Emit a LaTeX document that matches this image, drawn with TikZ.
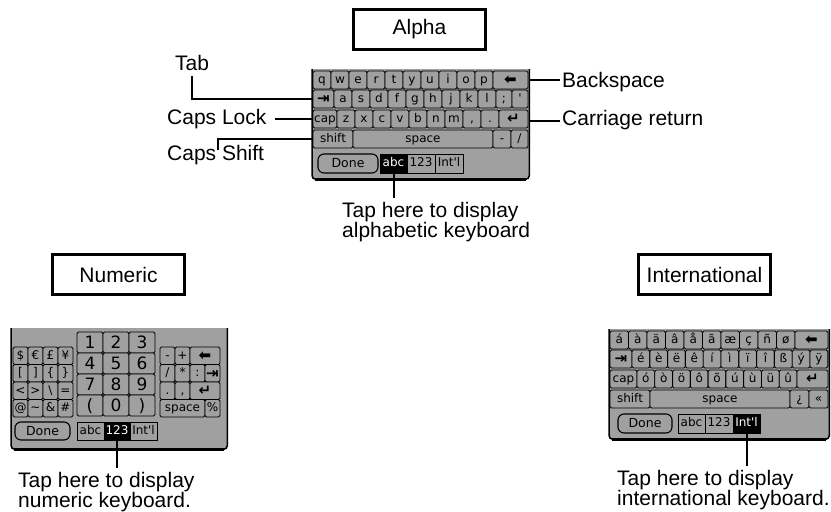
\documentclass[tikz,border=0pt]{standalone}
\usepackage{fontspec}
\setmainfont{Liberation Sans}
\newfontfamily\kf{DejaVu Sans}
\definecolor{kbgray}{RGB}{160,160,160}
\tikzset{
  lbl/.style={inner sep=0pt, font=\fontsize{21}{18.5}\selectfont},
  tapnote/.style={inner sep=0pt, align=left, anchor=north west, font=\fontsize{21}{18.5}\selectfont},
  titlebox/.style={draw, line width=3pt, minimum width=132pt, minimum height=40pt, inner sep=0pt, font=\fontsize{21}{24}\selectfont},
  conn/.style={line width=2pt},
  kbbg/.style={fill=kbgray, draw=none, inner sep=0pt, anchor=north west},
  kbside/.style={line width=1.5pt, rounded corners=4pt},
  kbbottom/.style={line width=3pt},
  keyb/.style={draw, fill=kbgray, line width=0.9pt, rounded corners=1.5pt, inner sep=0pt,
    text height=8.8pt, text depth=2pt, font=\kf\fontsize{12}{12}\selectfont},
  keyon/.style={fill=black, text=white},
  tabkey/.style={sharp corners},
  donekey/.style={rounded corners=6pt, line width=1.1pt, text height=9pt, text depth=0.5pt, font=\kf\fontsize{12.5}{13}\selectfont},
  numkey/.style={text height=12.4pt, text depth=0pt, font=\kf\fontsize{17}{17}\selectfont},
  icon/.style={text height=9.5pt, text depth=0pt, font=\kf\bfseries\fontsize{15}{15}\selectfont},
}
\newcommand\kk[6][]{\node[keyb,minimum width=#4pt,minimum height=#5pt,#1] (#2) at (#3) {#6};}
\begin{document}
\begin{tikzpicture}[x=1pt,y=-1pt]
\useasboundingbox (0,0) rectangle (831,512);
\fill[white] (0,0) rectangle (831,512);

% ---------- titles
\node[titlebox] (talpha) at (419.5,29.5) {Alpha};
\node[titlebox] (tnum) at (118.5,274.5) {Numeric};
\node[titlebox] (tintl) at (704.5,274.5) {International};

% ---------- ALPHA keyboard
\node[kbbg, minimum width=217pt, minimum height=110pt] (alphakb) at (312,69) {};
\draw[kbside] (alphakb.north west) -- (alphakb.south west) -- (alphakb.south east) -- (alphakb.north east);
\draw[kbbottom] ([xshift=3pt]alphakb.south west) -- ([xshift=-3pt]alphakb.south east);
% row 1
\foreach \kl [count=\i from 0] in {q,w,e,r,t,y,u,i,o,p} {\kk{aa\i}{322+18*\i,80}{18}{18}{\kl}}
\kk[icon]{abksp}{510.5,80}{35}{18}{⬅}
% row 2
\kk[icon]{atab}{323.5,99}{21}{18}{⇥}
\foreach \kl [count=\i from 0] in {a,s,d,f,g,h,j,k,l} {\kk{ab\i}{343+18*\i,99}{18}{18}{\kl}}
\kk{asemi}{504,99}{16}{18}{;}
\kk{aquote}{520,99}{16}{18}{\textquotesingle}
% row 3
\kk{acap}{325,119}{24}{18}{cap}
\foreach \kl [count=\i from 0] in {z,x,c,v,b,n,m,{,},.} {\kk{ac\i}{346+18*\i,119}{18}{18}{\kl}}
\kk[icon]{aret}{513.5,119}{29}{18}{↵}
% row 4
\kk{ashift}{333,139}{40}{18}{shift}
\kk{aspace}{423,139}{140}{18}{space}
\kk{aminus}{502,139}{18}{18}{-}
\kk{aslash}{519.5,139}{17}{18}{/}
% bottom row
\kk[donekey]{adone}{348,163.5}{60}{19}{Done}
\kk[tabkey,keyon]{aabc}{393.5,163.5}{27}{19}{abc}
\kk[tabkey]{a123}{421,163.5}{28}{19}{123}
\kk[tabkey]{aintl}{449,163.5}{28}{19}{Int\textquotesingle l}

% alpha labels
\node[lbl, anchor=base west] (tablbl) at (175,70) {Tab};
\node[lbl, anchor=base west] (capslbl) at (167,124) {Caps Lock};
\node[lbl, anchor=base west] (shiftlbl) at (167,160) {Caps Shift};
\node[lbl, anchor=base west] (bklbl) at (562,87.5) {Backspace};
\node[lbl, anchor=base west] (retlbl) at (562,125.5) {Carriage return};
\draw[conn] ([yshift=-6pt]tablbl.south) |- (alphakb.west |- atab);
\draw[conn] ([xshift=8pt]capslbl.east |- acap) -- (alphakb.west |- acap);
\coordinate (shiftfoot) at (218,150);
\draw[conn] (shiftfoot) |- (alphakb.west |- ashift);
\draw[conn] (alphakb.east |- abksp) -- ([xshift=-2pt]bklbl.west |- abksp);
\draw[conn] ([yshift=-1.5pt]alphakb.east |- aret) -- ([xshift=-2pt,yshift=-1.5pt]retlbl.west |- aret);
\node[tapnote] (alphanote) at (342,202) {Tap here to display\\alphabetic keyboard};
\draw[conn] (aabc.south) -- ([yshift=4pt]aabc.south |- alphanote.north);

% ---------- NUMERIC keyboard
\node[kbbg, minimum width=216pt, minimum height=121pt] (numkb) at (11,328) {};
\draw[kbside] (numkb.north west) -- (numkb.south west) -- (numkb.south east) -- (numkb.north east);
\draw[kbbottom] ([xshift=3pt]numkb.south west) -- ([xshift=-3pt]numkb.south east);
% symbols
\foreach \kl [count=\i from 0] in {\$,€,£,¥} {\kk{ns\i}{20.5+15*\i,355.75}{15}{17.5}{\kl}}
\foreach \kl [count=\i from 0] in {\lbrack,\rbrack,\{,\}} {\kk{nt\i}{20.5+15*\i,373.25}{15}{17.5}{\kl}}
\foreach \kl [count=\i from 0] in {<,>,\textbackslash,=} {\kk{nu\i}{20.5+15*\i,390.75}{15}{17.5}{\kl}}
\foreach \kl [count=\i from 0] in {@,\textasciitilde,\&,\#} {\kk{nv\i}{20.5+15*\i,408.25}{15}{17.5}{\kl}}
% numbers
\foreach \kl [count=\i from 0] in {1,2,3} {\kk[numkey]{nna\i}{90+26*\i,342.5}{26}{21}{\kl}}
\foreach \kl [count=\i from 0] in {4,5,6} {\kk[numkey]{nnb\i}{90+26*\i,363.5}{26}{21}{\kl}}
\foreach \kl [count=\i from 0] in {7,8,9} {\kk[numkey]{nnc\i}{90+26*\i,384.5}{26}{21}{\kl}}
\kk[numkey]{nnlp}{90,405.5}{26}{21}{(}
\kk[numkey]{nnzero}{116,405.5}{26}{21}{0}
\kk[numkey]{nnrp}{142,405.5}{26}{21}{)}
% right block
\kk{nminus}{167.5,355.75}{15}{17.5}{-}
\kk{nplus}{182.5,355.75}{15}{17.5}{+}
\kk[icon]{nbk}{205,355.75}{30}{17.5}{⬅}
\kk{nslash}{167.5,373.25}{15}{17.5}{/}
\kk{nstar}{182.5,373.25}{15}{17.5}{*}
\kk{ncolon}{197.5,373.25}{15}{17.5}{:}
\kk[icon]{ntab}{212.5,373.25}{15}{17.5}{⇥}
\kk{ndot}{167.5,390.75}{15}{17.5}{.}
\kk{ncomma}{182.5,390.75}{15}{17.5}{,}
\kk[icon]{nret}{205,390.75}{30}{17.5}{↵}
\kk{nspace}{182.5,408.25}{45}{17.5}{space}
\kk{npct}{212.5,408.25}{15}{17.5}{\%}
% bottom row
\kk[donekey]{ndone}{42.5,431}{55}{18}{Done}
\kk[tabkey]{nabc}{90.5,431}{27}{18}{abc}
\kk[tabkey,keyon]{n123}{117,431}{26}{18}{123}
\kk[tabkey]{nintl}{143.5,431}{27}{18}{Int\textquotesingle l}
\node[tapnote] (numnote) at (18,472) {Tap here to display\\numeric keyboard.};
\draw[conn] (n123.south) -- ([yshift=4pt]n123.south |- numnote.north);

% ---------- INTERNATIONAL keyboard
\node[kbbg, minimum width=220pt, minimum height=110pt] (intlkb) at (609,329) {};
\draw[kbside] (intlkb.north west) -- (intlkb.south west) -- (intlkb.south east) -- (intlkb.north east);
\draw[kbbottom] ([xshift=3pt]intlkb.south west) -- ([xshift=-3pt]intlkb.south east);
\foreach \kl [count=\i from 0] in {á,à,ä,â,å,ã,æ,ç,ñ,ø} {\kk{ia\i}{619.25+18.5*\i,340}{18.5}{18}{\kl}}
\kk[icon]{ibksp}{811.5,340}{33}{18}{⬅}
\kk[icon]{itab}{621,359}{22}{18}{⇥}
\foreach \kl [count=\i from 0] in {é,è,ë,ê,í,ì,ï,î,ß,ý,ÿ} {\kk{ib\i}{640.9+17.8*\i,359}{17.8}{18}{\kl}}
\kk{icap}{623.5,379}{27}{18}{cap}
\foreach \kl [count=\i from 0] in {ó,ò,ö,ô,õ,ú,ù,ü,û} {\kk{ic\i}{645.9+17.78*\i,379}{17.78}{18}{\kl}}
\kk[icon]{iret}{812.5,379}{31}{18}{↵}
\kk{ishift}{630,399}{40}{18}{shift}
\kk{ispace}{720,399}{140}{18}{space}
\kk{iinvq}{799.5,399}{19}{18}{¿}
\kk{iguil}{818.5,399}{19}{18}{«}
\kk[donekey]{idone}{645,423.5}{54}{19}{Done}
\kk[tabkey]{iabc}{691.5,423.5}{27}{19}{abc}
\kk[tabkey]{i123}{719,423.5}{28}{19}{123}
\kk[tabkey,keyon]{iintl}{746.5,423.5}{27}{19}{Int\textquotesingle l}
\node[tapnote] (intlnote) at (617,470) {Tap here to display\\international keyboard.};
\draw[conn] (iintl.south) -- ([yshift=4pt]iintl.south |- intlnote.north);
\end{tikzpicture}
\end{document}
